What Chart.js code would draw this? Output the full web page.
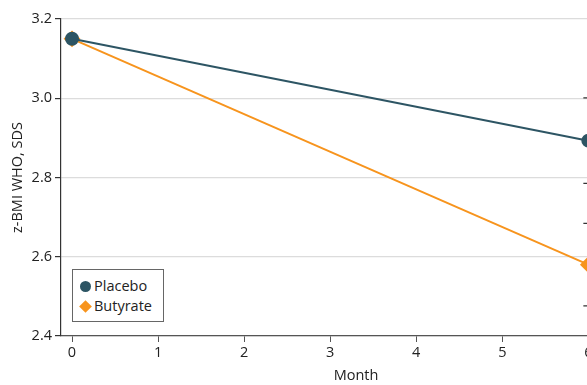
<!DOCTYPE html>
<html lang="en">
<head>
<meta charset="utf-8" />
<title>z-BMI chart</title>
<style>
  html, body { margin: 0; padding: 0; background: #fff; overflow: hidden; }
  .wrap { position: relative; width: 587px; height: 385px; overflow: hidden; }
  .box { position: absolute; left: 0; top: 0; width: 660px; height: 385px; }
  .legend {
    position: absolute; left: 72px; top: 269px; width: 92px; height: 53px;
    border: 1px solid #666; background: #fff; box-sizing: border-box;
    font-family: "Open Sans", sans-serif; font-size: 14.5px; color: #222;
    padding: 6px 0 0 7px; line-height: 19.5px;
  }
  .legend span.dot { display: inline-block; width: 11px; height: 11px; border-radius: 50%; background: #2d5564; margin-right: 3px; vertical-align: -1px; }
  .legend span.dia { display: inline-block; width: 9px; height: 9px; background: #f7941d; transform: rotate(45deg); margin: 0 4px 0 1px; vertical-align: 0px; }
</style>
</head>
<body>
<div class="wrap">
  <div class="box"><canvas id="bmiChart" width="660" height="385"></canvas></div>
  <div class="legend">
    <div><span class="dot"></span>Placebo</div>
    <div><span class="dia"></span>Butyrate</div>
  </div>
</div>
<script src="https://cdn.jsdelivr.net/npm/chart.js"></script>
<script>
  const months = [0, 6];
  const placebo = [3.15, 2.893];
  const butyrate = [3.15, 2.58];
  // half-width of the error bars at each month (none drawn at month 0)
  const placeboErr = [0, 0.108];
  const butyrateErr = [0, 0.104];
  const xTicks = [0, 1, 2, 3, 4, 5, 6];
  const yTicks = [2.4, 2.6, 2.8, 3.0, 3.2];

  const errorBars = {
    id: 'errorBars',
    afterDatasetsDraw(chart) {
      const ctx = chart.ctx;
      const x = chart.scales.x, y = chart.scales.y;
      const errs = [placeboErr, butyrateErr];
      const vals = [placebo, butyrate];
      ctx.save();
      ctx.strokeStyle = '#333';
      ctx.lineWidth = 1.2;
      errs.forEach(function (e, i) {
        months.forEach(function (m, j) {
          if (!e[j]) return;
          const px = x.getPixelForValue(m);
          const top = y.getPixelForValue(vals[i][j] + e[j]);
          const bot = y.getPixelForValue(vals[i][j] - e[j]);
          ctx.beginPath();
          ctx.moveTo(px, top); ctx.lineTo(px, bot);
          ctx.moveTo(px - 5, top); ctx.lineTo(px + 5, top);
          ctx.moveTo(px - 5, bot); ctx.lineTo(px + 5, bot);
          ctx.stroke();
        });
      });
      ctx.restore();
    }
  };

  const font = { family: '"Open Sans", sans-serif', size: 14.5 };

  new Chart(document.getElementById('bmiChart'), {
    type: 'line',
    data: {
      datasets: [{
        label: 'Placebo',
        data: months.map((m, i) => ({ x: m, y: placebo[i] })),
        borderColor: '#2d5564',
        backgroundColor: '#2d5564',
        borderWidth: 2,
        pointStyle: 'circle',
        pointRadius: 6,
        tension: 0
      }, {
        label: 'Butyrate',
        data: months.map((m, i) => ({ x: m, y: butyrate[i] })),
        borderColor: '#f7941d',
        backgroundColor: '#f7941d',
        borderWidth: 2,
        pointStyle: 'rectRot',
        pointRadius: 7,
        tension: 0
      }]
    },
    options: {
      responsive: false,
      animation: false,
      layout: { padding: { top: 19, left: 0, right: 0, bottom: 0 } },
      plugins: { legend: { display: false }, tooltip: { enabled: false } },
      scales: {
        x: {
          type: 'linear',
          min: -0.128,
          max: 6.728,
          afterFit(s) { s.height = 49; },
          afterBuildTicks(s) { s.ticks = xTicks.map(v => ({ value: v })); },
          border: { color: '#555', width: 1.2 },
          grid: { drawOnChartArea: false, color: '#555', tickLength: 6 },
          ticks: { color: '#222', font: font, padding: 2 },
          title: { display: true, text: 'Month', color: '#222', font: font, padding: { top: 5, bottom: 0 } }
        },
        y: {
          min: 2.4,
          max: 3.2,
          afterFit(s) { s.width = 61; },
          afterBuildTicks(s) { s.ticks = yTicks.map(v => ({ value: v })); },
          border: { color: '#333', width: 1.2 },
          grid: { color: '#dcdcdc', tickColor: '#333', tickLength: 6, lineWidth: 1.2 },
          ticks: { color: '#222', font: font, padding: 3, callback: v => v.toFixed(1) },
          title: { display: true, text: 'z-BMI WHO, SDS', color: '#222', font: font, padding: { top: 9, bottom: 2 } }
        }
      }
    },
    plugins: [errorBars]
  });
</script>
</body>
</html>
